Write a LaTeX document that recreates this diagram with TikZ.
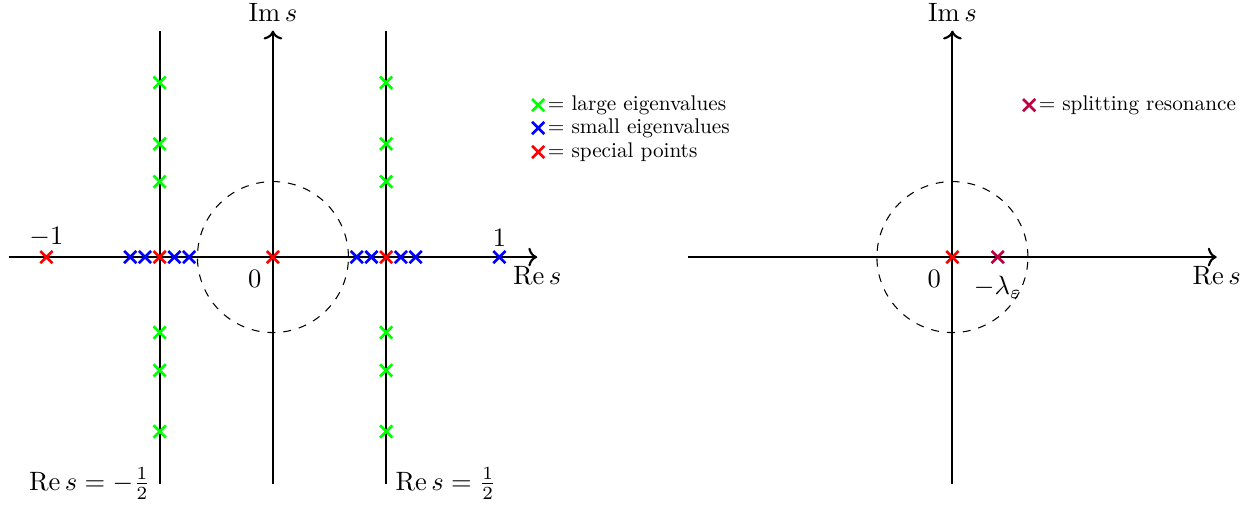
\documentclass[tikz,border=0pt]{standalone}
\usepackage{amsmath,amssymb}
\usetikzlibrary{arrows.meta,shapes.misc,positioning}

\begin{document}
\begin{tikzpicture}[x=3cm,y=3cm,
  axis/.style={thick,->},
  strip/.style={thick},
  disk/.style={dashed,thin},
  xmark/.style={cross out,draw,line width=1pt,minimum size=3.6pt,inner sep=0pt},
  lbl/.style={anchor=west,inner sep=1pt,scale=0.8,transform shape}]
\useasboundingbox (-1.205,-1.099) rectangle (4.336,1.135);
% left plane
\coordinate (lw) at (-1.167,0);  \coordinate (le) at (1.167,0);
\coordinate (ls) at (0,-1);      \coordinate (ln) at (0,1);
\coordinate (ma) at (-0.5,1);    \coordinate (mb) at (-0.5,-1);
\coordinate (pa) at (0.5,1);     \coordinate (pb) at (0.5,-1);
\draw[axis](lw)--(le);
\draw[axis](ls)--(ln);
\draw[strip](mb)--(ma);
\draw[strip](pb)--(pa);
\draw[disk](0,0) circle (1/3);
\node[above] (ims) at (ln) {$\operatorname{Im} s$};
\node[below] (res) at (le) {$\operatorname{Re} s$};
\node[left]  (hm)  at (mb) {$\operatorname{Re} s=-\frac{1}{2}$};
\node[right] (hp)  at (pb) {$\operatorname{Re} s=\frac{1}{2}$};
% large eigenvalues
\node[xmark,draw=green](g1) at (-0.5,0.77)  {}; \node[xmark,draw=green](g2) at (-0.5,0.5)  {};
\node[xmark,draw=green](g3) at (-0.5,0.333) {}; \node[xmark,draw=green](g4) at (-0.5,-0.333) {};
\node[xmark,draw=green](g5) at (-0.5,-0.5)  {}; \node[xmark,draw=green](g6) at (-0.5,-0.77) {};
\node[xmark,draw=green](g7) at (0.5,0.77)   {}; \node[xmark,draw=green](g8) at (0.5,0.5)    {};
\node[xmark,draw=green](g9) at (0.5,0.333)  {}; \node[xmark,draw=green](g10) at (0.5,-0.333) {};
\node[xmark,draw=green](g11) at (0.5,-0.5)  {}; \node[xmark,draw=green](g12) at (0.5,-0.77) {};
% small eigenvalues
\node[xmark,draw=blue](b1) at (-0.63,0) {}; \node[xmark,draw=blue](b2) at (-0.565,0) {};
\node[xmark,draw=blue](b3) at (-0.435,0) {}; \node[xmark,draw=blue](b4) at (-0.37,0) {};
\node[xmark,draw=blue](b5) at (0.37,0) {};  \node[xmark,draw=blue](b6) at (0.435,0) {};
\node[xmark,draw=blue](b7) at (0.565,0) {}; \node[xmark,draw=blue](b8) at (0.63,0) {};
\node[xmark,draw=blue](b9) at (1,0) {};
% special points
\node[xmark,draw=red](r1) at (-1,0) {};
\node[xmark,draw=red](r2) at (-0.5,0) {};
\node[xmark,draw=red](r3) at (0,0) {};
\node[xmark,draw=red](r4) at (0.5,0) {};
\node[above=0.5pt] (mone) at (r1) {$-1$};
\node[above=0.5pt] (one)  at (b9) {$1$};
\node[below left=1.6pt and 0.8pt] (zl) at (r3) {$0$};
% legend
\node[xmark,draw=green](kg) at (1.171,0.671) {};
\node[xmark,draw=blue] (kb) at (1.171,0.570) {};
\node[xmark,draw=red]  (kr) at (1.171,0.464) {};
\node[lbl] (tg) at (1.203,0.671) {$=$ large eigenvalues};
\node[lbl] (tb) at (1.203,0.570) {$=$ small eigenvalues};
\node[lbl] (tr) at (1.203,0.464) {$=$ special points};
% right plane
\coordinate (rw) at (1.833,0);  \coordinate (re) at (4.167,0);
\coordinate (rs) at (3,-1);     \coordinate (rn) at (3,1);
\draw[axis](rw)--(re);
\draw[axis](rs)--(rn);
\draw[disk](3,0) circle (1/3);
\node[above] (ims2) at (rn) {$\operatorname{Im} s$};
\node[below] (res2) at (re) {$\operatorname{Re} s$};
\node[xmark,draw=red]   (o)  at (3,0) {};
\node[xmark,draw=purple](sr) at (3.2,0) {};
\node[below left=1.6pt and 0.8pt] (zr) at (o) {$0$};
\node[below=3.5pt] (lam) at (sr) {$-\lambda_\varepsilon$};
\node[xmark,draw=purple](kp) at (3.339,0.671) {};
\node[lbl] (tp) at (3.370,0.671) {$=$ splitting resonance};
\end{tikzpicture}
\end{document}
